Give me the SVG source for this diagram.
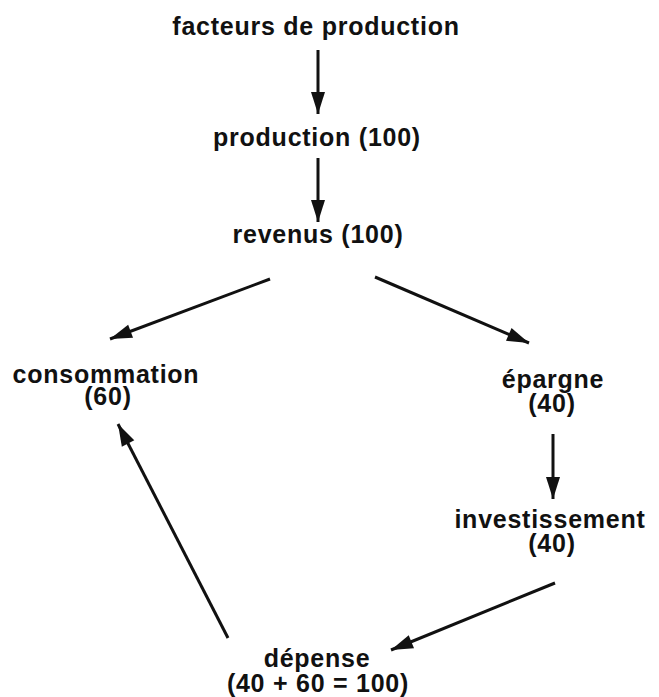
<svg xmlns="http://www.w3.org/2000/svg" width="659" height="697" viewBox="0 0 659 697">
<defs>
<style>
text{font-family:"Liberation Sans",Arial,sans-serif;font-weight:bold;font-size:25px;letter-spacing:0.75px;fill:#111;text-anchor:middle}
.c line{stroke:#111;stroke-width:3;marker-end:url(#ah)}
</style>
<marker id="ah" markerUnits="userSpaceOnUse" markerWidth="24" markerHeight="16" refX="22" refY="7" orient="auto" overflow="visible">
<path d="M0,0 L22,7 L0,14 z" fill="#111"/>
</marker>
</defs>
<rect width="659" height="697" fill="#fff"/>
<g id="n-facteurs"><text x="316" y="35">facteurs de production</text></g>
<g id="n-production"><text x="317" y="146">production (100)</text></g>
<g id="n-revenus"><text x="318" y="243">revenus (100)</text></g>
<g id="n-consommation"><text x="106" y="383">consommation<tspan x="108" y="405">(60)</tspan></text></g>
<g id="n-epargne"><text x="553" y="388">épargne<tspan x="552" y="412">(40)</tspan></text></g>
<g id="n-investissement"><text x="550" y="528">investissement<tspan x="552" y="552">(40)</tspan></text></g>
<g id="n-depense"><text x="317" y="667">dépense<tspan x="318" y="692">(40 + 60 = 100)</tspan></text></g>
<g class="c" id="connectors">
<line x1="318" y1="50" x2="318" y2="114"/>
<line x1="318" y1="158" x2="318" y2="222"/>
<line x1="270" y1="279" x2="110" y2="339"/>
<line x1="375" y1="277" x2="529" y2="343"/>
<line x1="553" y1="434" x2="553" y2="499"/>
<line x1="555" y1="583" x2="391" y2="650"/>
<line x1="228" y1="638" x2="118" y2="424"/>
</g>
</svg>
